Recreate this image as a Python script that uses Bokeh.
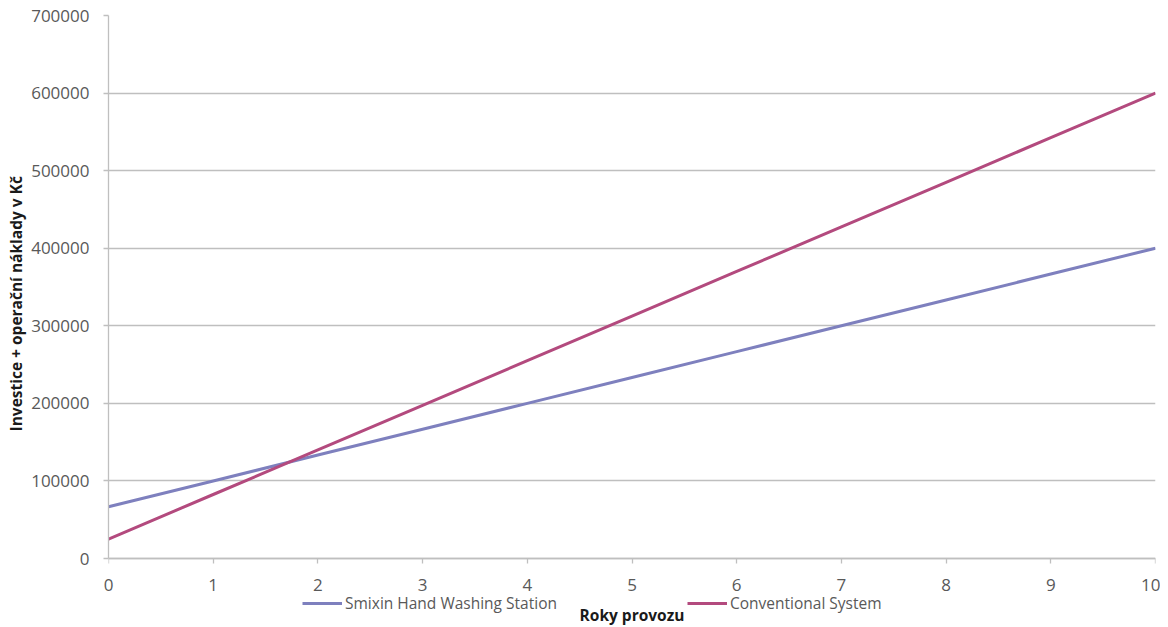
from bokeh.plotting import figure
from bokeh.models import (Range1d, FixedTicker, BasicTickFormatter, Legend, LegendItem,
                          Title, LinearAxis)
from bokeh.embed import file_html
from bokeh.resources import INLINE

years = [0, 1, 2, 3, 4, 5, 6, 7, 8, 9, 10]
smixin = [66667, 100000, 133333, 166667, 200000, 233333, 266667, 300000, 333333, 366667, 400000]
conventional = [25000, 82500, 140000, 197500, 255000, 312500, 370000, 427500, 485000, 542500, 600000]
series_names = ["Smixin Hand Washing Station", "Conventional System"]
x_label = "Roky provozu"
y_label = "Investice + operační náklady v Kč"
y_ticks = [0, 100000, 200000, 300000, 400000, 500000, 600000, 700000]

FONT = "Open Sans"
TICK_COLOR = "#595959"
GRID = "#BFBFBF"

# frame: the value axis spans AXIS_PX pixels; extra room below zero holds legend & labels
AXIS_PX = 543
FRAME_H = 610
y_max = 700000
y_min = -y_max * (FRAME_H - AXIS_PX) / AXIS_PX

p = figure(frame_width=1047, frame_height=FRAME_H, min_border_left=100, min_border_right=5,
           min_border_top=15, min_border_bottom=2, output_backend="svg", toolbar_location=None,
           x_range=Range1d(0, 10), y_range=Range1d(y_min, y_max), x_axis_location=None)
p.outline_line_color = None
p.background_fill_color = "white"

p.xgrid.grid_line_color = None
p.ygrid.grid_line_color = GRID
p.ygrid.grid_line_width = 1.3
p.ygrid.ticker = FixedTicker(ticks=y_ticks)

# x axis line + ticks at value zero
x_rule = LinearAxis(fixed_location=0, ticker=FixedTicker(ticks=years))
x_rule.axis_line_color = GRID
x_rule.axis_line_width = 1.3
x_rule.major_tick_line_color = GRID
x_rule.major_tick_line_width = 1.3
x_rule.major_tick_in = 0
x_rule.major_tick_out = 5
x_rule.minor_tick_line_color = None
x_rule.major_label_text_color = None
p.add_layout(x_rule, "below")

# x tick labels and axis title
x_lab = LinearAxis(ticker=FixedTicker(ticks=years), axis_label=x_label)
x_lab.axis_line_color = None
x_lab.major_tick_line_color = None
x_lab.minor_tick_line_color = None
x_lab.major_tick_in = 0
x_lab.major_tick_out = 0
x_lab.major_label_standoff = -47
x_lab.major_label_text_font = FONT
x_lab.major_label_text_font_size = "17px"
x_lab.major_label_text_color = TICK_COLOR
x_lab.axis_label_standoff = 10
x_lab.axis_label_text_font = FONT
x_lab.axis_label_text_font_style = "bold"
x_lab.axis_label_text_font_size = "15.5px"
x_lab.axis_label_text_color = "#1a1a1a"
p.add_layout(x_lab, "below")

ya = p.yaxis[0]
ya.ticker = FixedTicker(ticks=y_ticks)
ya.formatter = BasicTickFormatter(use_scientific=False)
ya.bounds = (0, y_max)
ya.axis_line_color = GRID
ya.axis_line_width = 1.3
ya.major_tick_line_color = GRID
ya.major_tick_line_width = 1.3
ya.major_tick_in = 0
ya.major_tick_out = 5
ya.minor_tick_line_color = None
ya.major_label_standoff = 14
ya.major_label_text_font = FONT
ya.major_label_text_font_size = "17px"
ya.major_label_text_color = TICK_COLOR

ytitle = Title(text=y_label, align="left", offset=194,
               text_font=FONT, text_font_style="bold", text_font_size="15.5px",
               text_color="#1a1a1a", standoff=4)
p.add_layout(ytitle, "left")

r1 = p.line(years, smixin, line_color="#7E80BE", line_width=3)
r2 = p.line(years, conventional, line_color="#B34A7E", line_width=3)

legend = Legend(items=[LegendItem(label=series_names[0], renderers=[r1]),
                       LegendItem(label=series_names[1], renderers=[r2])],
                orientation="horizontal", location=(194, 11),
                border_line_color=None, background_fill_alpha=0, padding=0, margin=0,
                glyph_width=40, glyph_height=20, label_height=20, label_standoff=3,
                spacing=130, label_text_font=FONT, label_text_font_size="15.5px",
                label_text_color=TICK_COLOR)
p.add_layout(legend, "center")

open("out.html", "w").write(file_html(p, INLINE))
